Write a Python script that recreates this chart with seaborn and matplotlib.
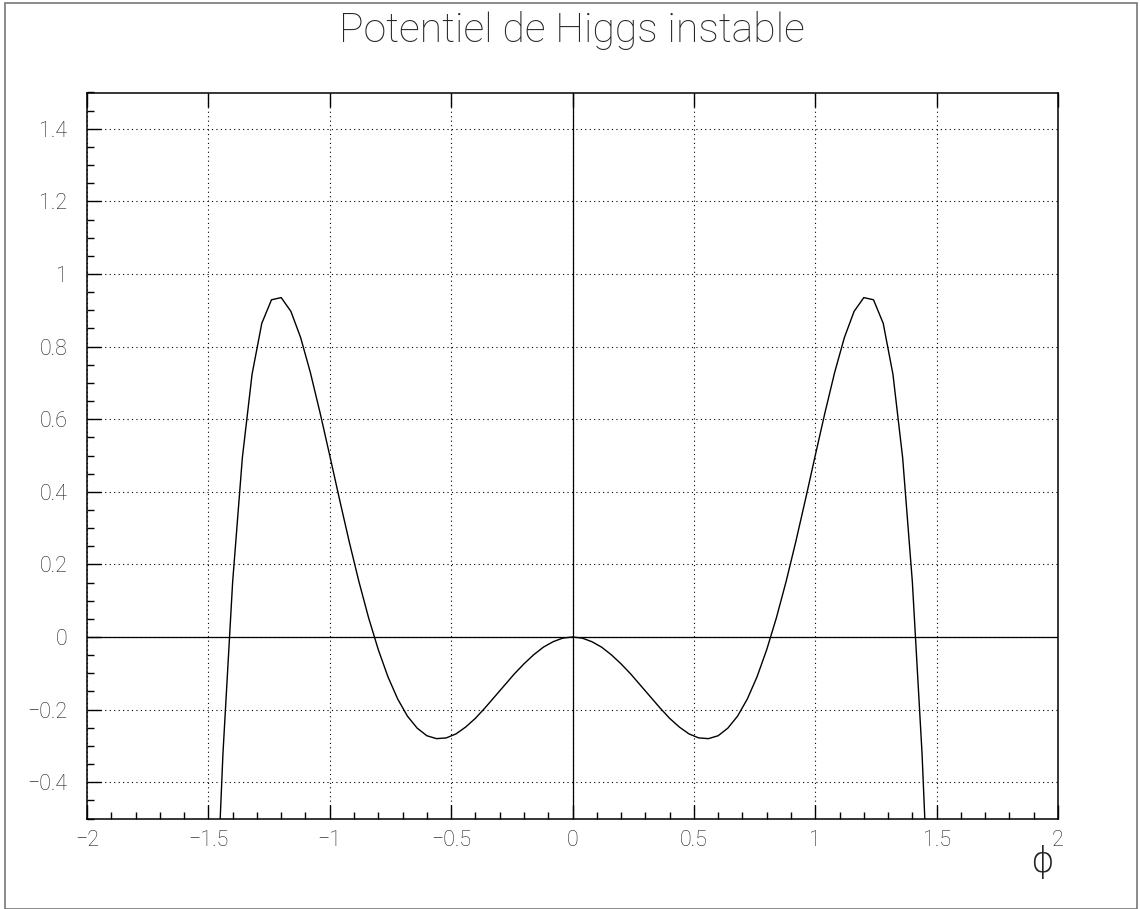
import numpy as np
import pandas as pd
import matplotlib
matplotlib.use("Agg")
import matplotlib.pyplot as plt
import seaborn as sns
from matplotlib.ticker import MultipleLocator, FuncFormatter
from matplotlib.patches import Rectangle

phi = np.round(np.arange(-2.0, 2.0001, 0.04), 2)
v_right = [0.000, -0.003, -0.013, -0.028, -0.049, -0.074, -0.102, -0.133, -0.164, -0.195,
           -0.224, -0.248, -0.267, -0.278, -0.280, -0.272, -0.251, -0.218, -0.171, -0.110,
           -0.035, 0.053, 0.153, 0.263, 0.380, 0.500, 0.618, 0.729, 0.825, 0.897,
           0.935, 0.929, 0.864, 0.724, 0.494, 0.152, -0.322, -0.953, -1.768, -2.797,
           -4.071, -5.628, -7.506, -9.747, -12.398, -15.508, -19.132, -23.328, -28.159, -33.693,
           -40.0]
v_left = [-40.0, -33.693, -28.159, -23.328, -19.132, -15.508, -12.398, -9.747, -7.506, -5.628,
          -4.071, -2.797, -1.768, -0.953, -0.322, 0.152, 0.494, 0.724, 0.864, 0.929,
          0.935, 0.897, 0.825, 0.729, 0.618, 0.500, 0.380, 0.263, 0.153, 0.053,
          -0.035, -0.110, -0.171, -0.218, -0.251, -0.272, -0.280, -0.278, -0.267, -0.248,
          -0.224, -0.195, -0.164, -0.133, -0.102, -0.074, -0.049, -0.028, -0.013, -0.003]
potential = v_left + v_right

title = "Potentiel de Higgs instable"
xlabel = "\u03d5"

df = pd.DataFrame({"phi": phi, "V": potential})

sns.set_style("white")
plt.rcParams["font.family"] = ["Roboto", "DejaVu Sans"]

fig = plt.figure(figsize=(11.4, 9.09), dpi=100)
ax = fig.add_axes([87 / 1140, 1 - 818.5 / 909, (1058 - 87) / 1140, (818.5 - 92.5) / 909])

sns.lineplot(data=df, x="phi", y="V", ax=ax, color="black", lw=1.0,
             sort=False, estimator=None)

ax.set_xlim(-2, 2)
ax.set_ylim(-0.5, 1.5)

# dotted grid and the two zero lines
ax.xaxis.set_major_locator(MultipleLocator(0.5))
ax.xaxis.set_minor_locator(MultipleLocator(0.1))
ax.yaxis.set_major_locator(MultipleLocator(0.2))
ax.yaxis.set_minor_locator(MultipleLocator(0.05))
ax.grid(True, which="major", color="black", lw=0.8, linestyle=(0, (1, 3)))
ax.axhline(0, color="black", lw=0.9, zorder=1)
ax.axvline(0, color="black", lw=0.9, zorder=1)

fmt = FuncFormatter(lambda v, p: ("%g" % round(v, 2)).replace("-", "\u2212"))
ax.xaxis.set_major_formatter(fmt)
ax.yaxis.set_major_formatter(fmt)

ax.tick_params(axis="both", which="both", bottom=True, left=True, top=False, right=False,
               direction="in", width=1.0, colors="black")
ax.tick_params(axis="both", which="major", length=10, labelsize=15.5)
ax.tick_params(axis="both", which="minor", length=5)
ax.tick_params(axis="x", which="major", top=True, pad=8)
ax.tick_params(axis="y", which="major", pad=14)
for lab in ax.get_xticklabels() + ax.get_yticklabels():
    lab.set_fontweight("light")
    lab.set_color("#222222")

for s in ax.spines.values():
    s.set_color("black")
    s.set_linewidth(1.1)

ax.set_xlabel("")
ax.set_ylabel("")

fig.text(572 / 1140, 1 - 30 / 909, title, ha="center", va="center",
         fontsize=29.5, fontweight="light")
fig.text(1042 / 1140, 1 - 862 / 909, xlabel, ha="center", va="center",
         fontsize=26, family=["DejaVu Sans"], fontweight="light")

# outer canvas frame
fig.patches.append(Rectangle((5 / 1140, 0), 1132 / 1140, 1 - 3 / 909,
                             transform=fig.transFigure, fill=False,
                             edgecolor="#777777", lw=1.2))

fig.savefig("out.png", dpi=100)
